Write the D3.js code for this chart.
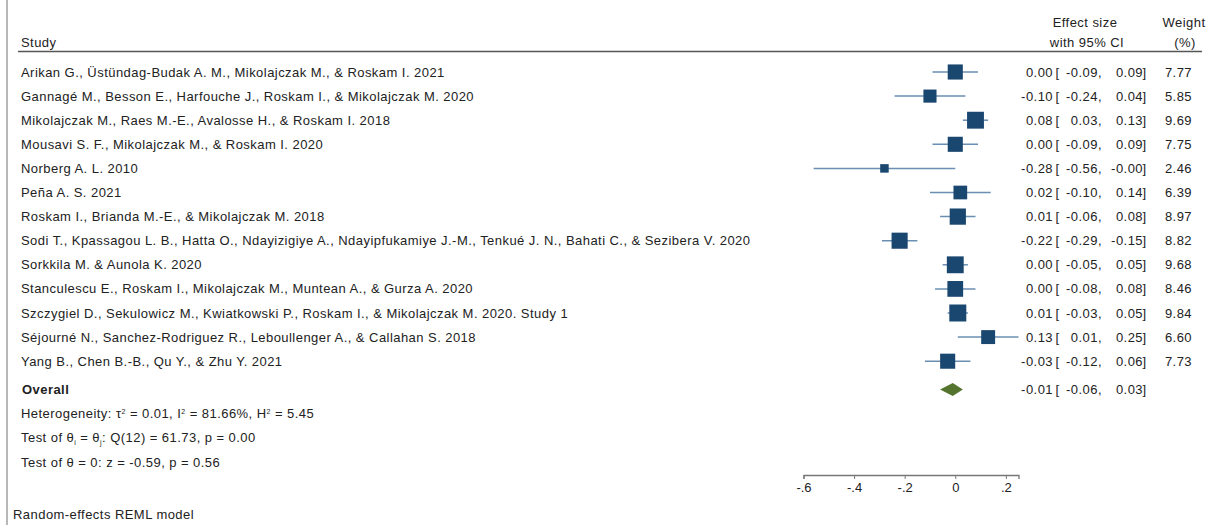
<!DOCTYPE html>
<html><head><meta charset="utf-8">
<script src="https://cdn.jsdelivr.net/npm/d3@7"></script>
<style>
body{margin:0;background:#fff;}
text{font-family:"Liberation Sans",Arial,Helvetica,sans-serif;fill:#222;}
</style></head>
<body><svg id="c" width="1211" height="525"></svg>
<script>
const studies = [
 "Arikan G., Üstündag-Budak A. M., Mikolajczak M., & Roskam I. 2021",
 "Gannagé M., Besson E., Harfouche J., Roskam I., & Mikolajczak M. 2020",
 "Mikolajczak M., Raes M.-E., Avalosse H., & Roskam I. 2018",
 "Mousavi S. F., Mikolajczak M., & Roskam I. 2020",
 "Norberg A. L. 2010",
 "Peña A. S. 2021",
 "Roskam I., Brianda M.-E., & Mikolajczak M. 2018",
 "Sodi T., Kpassagou L. B., Hatta O., Ndayizigiye A., Ndayipfukamiye J.-M., Tenkué J. N., Bahati C., & Sezibera V. 2020",
 "Sorkkila M. & Aunola K. 2020",
 "Stanculescu E., Roskam I., Mikolajczak M., Muntean A., & Gurza A. 2020",
 "Szczygiel D., Sekulowicz M., Kwiatkowski P., Roskam I., & Mikolajczak M. 2020. Study 1",
 "Séjourné N., Sanchez-Rodriguez R., Leboullenger A., & Callahan S. 2018",
 "Yang B., Chen B.-B., Qu Y., & Zhu Y. 2021"
];
const effect = [0.00,-0.10,0.08,0.00,-0.28,0.02,0.01,-0.22,0.00,0.00,0.01,0.13,-0.03];
const lower  = [-0.09,-0.24,0.03,-0.09,-0.56,-0.10,-0.06,-0.29,-0.05,-0.08,-0.03,0.01,-0.12];
const upper  = [0.09,0.04,0.13,0.09,-0.00,0.14,0.08,-0.15,0.05,0.08,0.05,0.25,0.06];
const weight = [7.77,5.85,9.69,7.75,2.46,6.39,8.97,8.82,9.68,8.46,9.84,6.60,7.73];
const overall = {effect:-0.01, lower:-0.06, upper:0.03};
const xTicks = [-0.6,-0.4,-0.2,0,0.2];
const tickLabels = ["-.6","-.4","-.2","0",".2"];

const svg = d3.select("#c");
const fs = 13, ls = 0.45;
const loc = d3.formatLocale({decimal:".",thousands:",",grouping:[3],currency:["",""],minus:"-"});
const fAbs = loc.format(".2f");
const f2 = v => ((v < 0 || Object.is(v, -0)) ? "-" : "") + fAbs(Math.abs(v));
const x = d3.scaleLinear().domain([-0.6,0.25]).range([803.5,1018.5]);
const y = d3.scaleLinear().domain([0,1]).range([72,96.1]);
const size = d3.scaleSqrt().domain([0,d3.max(weight)]).range([0,17]);

function txt(g,xx,yy,s,anchor){
  return g.append("text").attr("x",xx).attr("y",yy).attr("dy","0.35em").attr("font-size",fs)
    .attr("letter-spacing",ls).attr("text-anchor",anchor||"start").text(s);
}

// left border line
svg.append("line").attr("x1",7).attr("x2",7).attr("y1",0).attr("y2",525)
  .attr("stroke","#888").attr("stroke-width",1.2);

// header
txt(svg,21,42,"Study");
txt(svg,1085,22,"Effect size","middle");
txt(svg,1087,42,"with 95% CI","middle");
txt(svg,1184,22,"Weight","middle");
txt(svg,1185,42,"(%)","middle");
svg.append("line").attr("x1",18).attr("x2",1202).attr("y1",51.5).attr("y2",51.5)
  .attr("stroke","#555").attr("stroke-width",1.5);

function ciText(g,cy,e,l,u){
  txt(g,1053,cy,f2(e),"end");
  txt(g,1055.5,cy,"[");
  txt(g,1102,cy,f2(l)+",","end");
  txt(g,1143,cy,f2(u),"end");
  txt(g,1142.5,cy,"]");
}

const rows = svg.append("g");
studies.forEach((s,i)=>{
  const cy = y(i);
  txt(rows,21,cy,s);
  rows.append("line").attr("x1",x(lower[i])).attr("x2",x(upper[i])).attr("y1",cy).attr("y2",cy)
    .attr("stroke","#6a8fb3").attr("stroke-width",1.5);
  const sz = size(weight[i]);
  rows.append("rect").attr("x",x(effect[i])-sz/2).attr("y",cy-sz/2).attr("width",sz).attr("height",sz)
    .attr("fill","#1a476f");
  ciText(rows,cy,effect[i],lower[i],upper[i]);
  txt(rows,1192,cy,f2(weight[i]),"end");
});

// overall
const oy = 389.5;
txt(svg,22,oy,"Overall").attr("font-weight","bold");
const dh = 6.5;
svg.append("path").attr("d",`M${x(overall.lower)},${oy}L${x(overall.effect)},${oy-dh}L${x(overall.upper)},${oy}L${x(overall.effect)},${oy+dh}Z`)
  .attr("fill","#55752f");
ciText(svg,oy,overall.effect,overall.lower,overall.upper);

// stats lines
let t1 = txt(svg,21,413,"");
t1.append("tspan").text("Heterogeneity: τ");
t1.append("tspan").attr("font-size",7).attr("dy",-4).text("2");
t1.append("tspan").attr("dy",4).text(" = 0.01, I");
t1.append("tspan").attr("font-size",7).attr("dy",-4).text("2");
t1.append("tspan").attr("dy",4).text(" = 81.66%, H");
t1.append("tspan").attr("font-size",7).attr("dy",-4).text("2");
t1.append("tspan").attr("dy",4).text(" = 5.45");

let t2 = txt(svg,21,437.5,"");
t2.append("tspan").text("Test of θ");
t2.append("tspan").attr("font-size",7).attr("dy",3).text("i");
t2.append("tspan").attr("dy",-3).text(" = θ");
t2.append("tspan").attr("font-size",7).attr("dy",3).text("j");
t2.append("tspan").attr("dy",-3).text(": Q(12) = 61.73, p = 0.00");

txt(svg,21,462.5,"Test of θ = 0: z = -0.59, p = 0.56");

// axis
const ax = svg.append("g").attr("transform","translate(0,475)")
  .call(d3.axisBottom(x).tickValues(xTicks).tickFormat((d,i)=>tickLabels[i]).tickSize(4).tickSizeOuter(4).tickPadding(4));
ax.select(".domain").attr("stroke","#777").attr("stroke-width",1.3);
ax.selectAll(".tick line").attr("stroke","#777");
ax.selectAll(".tick text").attr("font-size",fs).attr("fill","#222").attr("font-family","Liberation Sans, Arial, sans-serif");

txt(svg,13,514,"Random-effects REML model");
</script></body></html>
